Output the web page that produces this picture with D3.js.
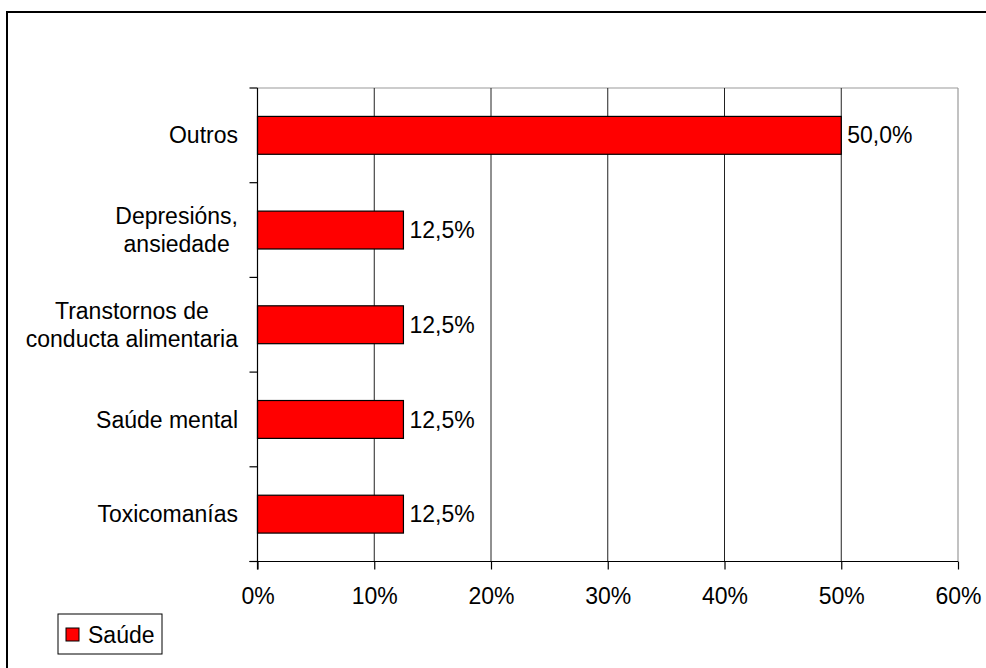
<!DOCTYPE html>
<html>
<head>
<meta charset="utf-8">
<script src="https://cdn.jsdelivr.net/npm/d3@7"></script>
<style>
html,body{margin:0;padding:0;background:#fff;}
svg{display:block;font-family:"Liberation Sans",Arial,sans-serif;}
</style>
</head>
<body>
<svg id="chart" width="986" height="668"></svg>
<script>
const categories = [
  ["Outros"],
  ["Depresións,", "ansiedade"],
  ["Transtornos de", "conducta alimentaria"],
  ["Saúde mental"],
  ["Toxicomanías"]
];
const values = [50.0, 12.5, 12.5, 12.5, 12.5];
const xTicks = [0, 10, 20, 30, 40, 50, 60];
const seriesName = "Saúde";

(function () {
const svg = d3.select("#chart");
const fs = 23;

// outer frame
svg.append("rect").attr("x", 7).attr("y", 12).attr("width", 1100).attr("height", 800)
  .attr("fill", "none").attr("stroke", "#000").attr("stroke-width", 2);

const pLeft = 257.5, pRight = 958, pTop = 88, pBottom = 561.5;
const x = d3.scaleLinear().domain([0, 60]).range([pLeft, pRight]);
const ids = categories.map((c, i) => i);
const y = d3.scaleBand().domain(ids).range([pTop, pBottom]).paddingInner(0.6).paddingOuter(0.3);
const step = y.step();

// plot border top & right
svg.append("line").attr("x1", pLeft).attr("x2", pRight).attr("y1", pTop).attr("y2", pTop)
  .attr("stroke", "#999").attr("stroke-width", 1.2);
svg.append("line").attr("x1", pRight).attr("x2", pRight).attr("y1", pTop).attr("y2", pBottom)
  .attr("stroke", "#999").attr("stroke-width", 1.2);

// gridlines
svg.append("g").selectAll("line").data(xTicks.filter(t => t > 0 && t < 60)).join("line")
  .attr("x1", d => x(d)).attr("x2", d => x(d)).attr("y1", pTop).attr("y2", pBottom)
  .attr("stroke", "#222").attr("stroke-width", 1);

// bars
svg.append("g").selectAll("rect").data(values).join("rect")
  .attr("x", x(0)).attr("y", (d, i) => y(i))
  .attr("width", d => x(d) - x(0)).attr("height", y.bandwidth())
  .attr("fill", "#ff0000").attr("stroke", "#000").attr("stroke-width", 1.2);

// value labels
const loc = d3.formatLocale({decimal: ",", thousands: ".", grouping: [3], currency: ["", "€"]});
const fmt = loc.format(".1f");
svg.append("g").selectAll("text").data(values).join("text")
  .attr("x", d => x(d) + 6).attr("y", (d, i) => y(i) + y.bandwidth() / 2)
  .attr("dy", "0.35em").attr("font-size", fs).attr("fill", "#000")
  .text(d => fmt(d) + "%");

// y axis line & ticks
svg.append("line").attr("x1", pLeft).attr("x2", pLeft).attr("y1", pTop).attr("y2", pBottom + 8)
  .attr("stroke", "#000").attr("stroke-width", 1.2);
const yTickPos = d3.range(categories.length + 1).map(i => pTop + i * step);
svg.append("g").selectAll("line").data(yTickPos).join("line")
  .attr("x1", pLeft - 8).attr("x2", pLeft).attr("y1", d => d).attr("y2", d => d)
  .attr("stroke", "#000").attr("stroke-width", 1.2);

// x axis
const xAxis = d3.axisBottom(x).tickValues(xTicks).tickFormat(d => d + "%").tickSize(8).tickSizeOuter(0);
const gx = svg.append("g").attr("transform", `translate(0,${pBottom})`).call(xAxis);
gx.select(".domain").remove();
svg.append("line").attr("x1", pLeft - 8).attr("x2", pRight).attr("y1", pBottom).attr("y2", pBottom)
  .attr("stroke", "#000").attr("stroke-width", 1.2);
gx.selectAll(".tick line").attr("stroke", "#000").attr("stroke-width", 1.2);
gx.selectAll(".tick text").attr("font-size", fs).attr("font-family", "Liberation Sans, Arial, sans-serif")
  .attr("fill", "#000").attr("y", 26).attr("dy", "0.71em");

// category labels
const lineH = 28;
categories.forEach((lines, i) => {
  const cy = y(i) + y.bandwidth() / 2;
  const t = svg.append("text").attr("font-size", fs).attr("fill", "#000");
  if (lines.length === 1) {
    t.attr("x", 238).attr("y", cy).attr("dy", "0.35em").attr("text-anchor", "end").text(lines[0]);
  } else {
    const tmp = svg.append("text").attr("font-size", fs);
    const widths = lines.map(l => { tmp.text(l); return tmp.node().getComputedTextLength(); });
    tmp.remove();
    const maxW = d3.max(widths);
    const cx = 238 - maxW / 2;
    t.attr("text-anchor", "middle");
    lines.forEach((l, k) => {
      t.append("tspan").attr("x", cx)
        .attr("y", cy + (k - (lines.length - 1) / 2) * lineH)
        .attr("dy", "0.35em").text(l);
    });
  }
});

// legend
const lg = svg.append("g");
lg.append("rect").attr("x", 58).attr("y", 614).attr("width", 104).attr("height", 40)
  .attr("fill", "#fff").attr("stroke", "#000").attr("stroke-width", 1);
lg.append("rect").attr("x", 66).attr("y", 628).attr("width", 13).attr("height", 13)
  .attr("fill", "#ff0000").attr("stroke", "#000").attr("stroke-width", 1);
lg.append("text").attr("x", 88).attr("y", 634.5).attr("dy", "0.35em")
  .attr("font-size", fs).attr("fill", "#000").text(seriesName);
})();
</script>
</body>
</html>
